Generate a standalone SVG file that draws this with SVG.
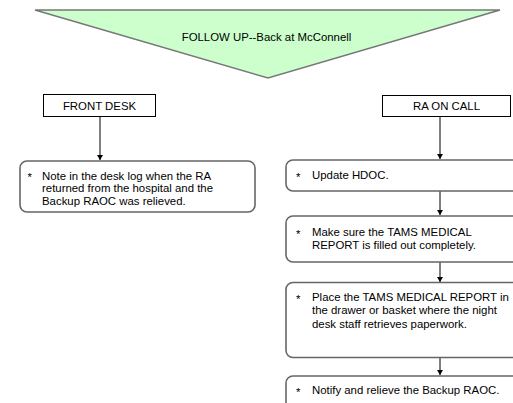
<svg xmlns="http://www.w3.org/2000/svg" width="513" height="403" viewBox="0 0 513 403">
<defs>
<style>
text{font-family:"Liberation Sans",Arial,sans-serif;font-size:11.4px;fill:#000}
.rect{fill:#fff;stroke:#000;stroke-width:1}
.rbox{fill:#fff;stroke:#666;stroke-width:1.6}
.conn{stroke:#000;stroke-width:1;fill:none;marker-end:url(#ah)}
</style>
<marker id="ah" markerWidth="6" markerHeight="6" refX="5" refY="3" orient="auto" markerUnits="userSpaceOnUse">
<path d="M0,0 L5,3 L0,6 Z" fill="#000"/>
</marker>
</defs>
<rect width="513" height="403" fill="#fff"/>
<g id="title">
<polygon points="35,10 500,10 268,78" fill="#ccffcc" stroke="#777" stroke-width="1.5"/>
<text x="266.5" y="41" text-anchor="middle">FOLLOW UP--Back at McConnell</text>
</g>
<g id="connectors">
<line class="conn" x1="100" y1="116" x2="100" y2="160"/>
<line class="conn" x1="440" y1="117" x2="440" y2="159"/>
<line class="conn" x1="440" y1="191" x2="440" y2="215"/>
<line class="conn" x1="440" y1="262" x2="440" y2="282"/>
<line class="conn" x1="440" y1="358" x2="440" y2="375"/>
</g>
<g id="front-desk">
<rect class="rect" x="43.5" y="94.5" width="112" height="22"/>
<text x="99.5" y="109.5" text-anchor="middle">FRONT DESK</text>
</g>
<g id="ra-on-call">
<rect class="rect" x="382.5" y="95.5" width="128" height="21"/>
<text x="446.5" y="110" text-anchor="middle">RA ON CALL</text>
</g>
<g id="note-desk-log">
<rect class="rbox" x="20" y="161" width="235" height="51" rx="7"/>
<text x="27.5" y="181">*</text>
<text x="42" y="179.5">Note in the desk log when the RA</text>
<text x="42" y="192">returned from the hospital and the</text>
<text x="42" y="204.5">Backup RAOC was relieved.</text>
</g>
<g id="update-hdoc">
<rect class="rbox" x="286" y="160" width="250" height="31" rx="7"/>
<text x="296" y="180.5">*</text>
<text x="312" y="179">Update HDOC.</text>
</g>
<g id="make-sure">
<rect class="rbox" x="286" y="216" width="250" height="46" rx="7"/>
<text x="296" y="237.5">*</text>
<text x="312" y="236">Make sure the TAMS MEDICAL</text>
<text x="312" y="249">REPORT is filled out completely.</text>
</g>
<g id="place-report">
<rect class="rbox" x="286" y="282.5" width="250" height="75" rx="7"/>
<text x="296" y="302.5">*</text>
<text x="312" y="301">Place the TAMS MEDICAL REPORT in</text>
<text x="312" y="314.3">the drawer or basket where the night</text>
<text x="312" y="327.6">desk staff retrieves paperwork.</text>
</g>
<g id="notify">
<rect class="rbox" x="286" y="376" width="250" height="46" rx="7"/>
<text x="296" y="395.5">*</text>
<text x="312" y="394">Notify and relieve the Backup RAOC.</text>
</g>
</svg>
